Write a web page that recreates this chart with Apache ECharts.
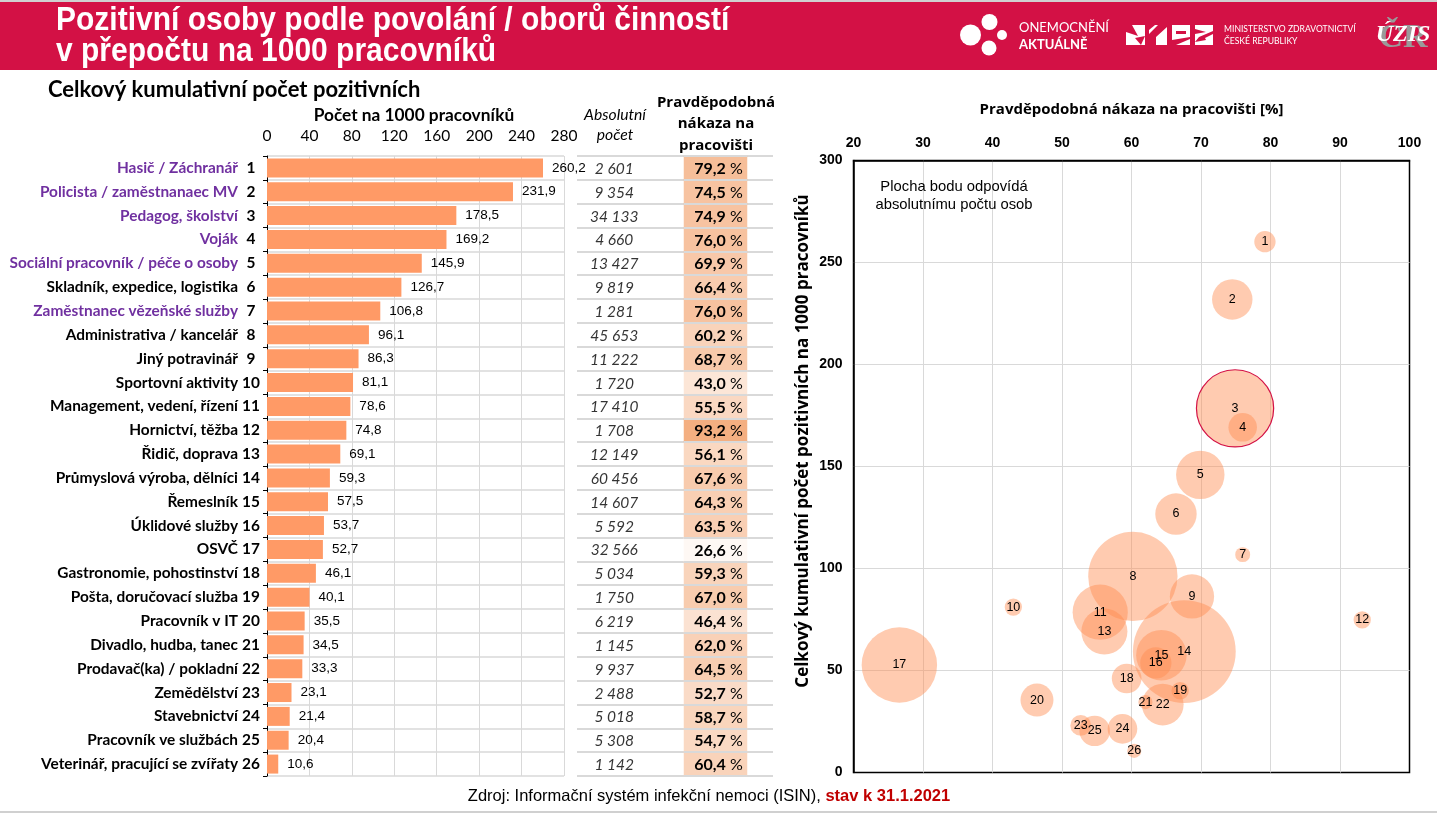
<!DOCTYPE html>
<html><head><meta charset="utf-8">
<style>html,body{margin:0;padding:0;background:#fff}#c{width:1437px;height:813px}</style>
<script src="https://cdn.jsdelivr.net/npm/echarts@6/dist/echarts.min.js"></script></head>
<body><div id="c"></div>
<script>
const occupations = ["Hasič / Záchranář","Policista / zaměstnanaec MV","Pedagog, školství","Voják","Sociální pracovník / péče o osoby","Skladník, expedice, logistika","Zaměstnanec vězeňské služby","Administrativa / kancelář","Jiný potravinář","Sportovní aktivity","Management, vedení, řízení","Hornictví, těžba","Řidič, doprava","Průmyslová výroba, dělníci","Řemeslník","Úklidové služby","OSVČ","Gastronomie, pohostinství","Pošta, doručovací služba","Pracovník v IT","Divadlo, hudba, tanec","Prodavač(ka) / pokladní","Zemědělství","Stavebnictví","Pracovník ve službách","Veterinář, pracující se zvířaty"];
const ranks = [1,2,3,4,5,6,7,8,9,10,11,12,13,14,15,16,17,18,19,20,21,22,23,24,25,26];
const purpleRanks = [1,2,3,4,5,7];
const ratePer1000 = [260.2,231.9,178.5,169.2,145.9,126.7,106.8,96.1,86.3,81.1,78.6,74.8,69.1,59.3,57.5,53.7,52.7,46.1,40.1,35.5,34.5,33.3,23.1,21.4,20.4,10.6];
const absolute = [2601,9354,34133,4660,13427,9819,1281,45653,11222,1720,17410,1708,12149,60456,14607,5592,32566,5034,1750,6219,1145,9937,2488,5018,5308,1142];
const workplacePct = [79.2,74.5,74.9,76.0,69.9,66.4,76.0,60.2,68.7,43.0,55.5,93.2,56.1,67.6,64.3,63.5,26.6,59.3,67.0,46.4,62.0,64.5,52.7,58.7,54.7,60.4];
const barTicks = {min:0,max:280,interval:40};
const scatterX = {min:20,max:100,interval:10};
const scatterY = {min:0,max:300,interval:50};

const SANS = '"Liberation Sans",Arial,sans-serif';
const CAL = 'Lato,"Noto Sans",sans-serif';
const OPEN = '"Open Sans","Noto Sans",sans-serif';
const GRID = '#d9d9d9', BAR = '#FF9A66', RED = '#D31145';
const comma = v => v.toFixed(1).replace('.', ',');
const spaced = v => String(v).replace(/\B(?=(\d{3})+$)/g, ' ');
const keys = ranks.map(String);

const chart = echarts.init(document.getElementById('c'), null, {renderer:'canvas'});
const txt = (x,y,text,o={},e={}) => Object.assign({type:'text',x,y,silent:true,z:20,style:Object.assign({text,fill:'#000',font:'bold 14px '+CAL,align:'center',verticalAlign:'middle'},o)},e);
const circ = (cx,cy,r) => ({type:'circle',silent:true,z:20,shape:{cx,cy,r},style:{fill:'#fff'}});
const box = (x,y,w,h,fill='#fff') => ({type:'rect',silent:true,z:20,shape:{x,y,width:w,height:h},style:{fill}});
const poly = (pts,fill=RED) => ({type:'polygon',silent:true,z:21,shape:{points:pts},style:{fill}});

chart.setOption({
  animation:false,
  backgroundColor:'#fff',
  graphic:{elements:[
    box(0,0,1437,2,'#d0d0d0'),
    box(0,2,1437,68,RED),
    box(0,811,1437,2,'#d0d0d0'),
    txt(56,21,'Pozitivní osoby podle povolání / oborů činností',{fill:'#fff',font:'bold 30px '+SANS,align:'left'},{scaleY:1.08}),
    txt(56,52,'v přepočtu na 1000 pracovníků',{fill:'#fff',font:'bold 30px '+SANS,align:'left'},{scaleY:1.08}),
    circ(970.5,35,10.5),circ(989.5,22,8),circ(989,48,7.5),circ(1002,35,5),
    txt(1019,28,'ONEMOCNĚNÍ',{fill:'#fff',font:'13px '+CAL,align:'left'}),
    txt(1019,45,'AKTUÁLNĚ',{fill:'#fff',font:'bold 13px '+CAL,align:'left'}),
    box(1126,25,19,20),box(1149,25,18,20),box(1172,25,18,20),box(1195,25,18,20),
    poly([[1126,25],[1132,25],[1138,36],[1126,32]]),poly([[1135,38],[1145,36],[1141,45]]),
    poly([[1149,34],[1158,25],[1167,25],[1167,27],[1156,37],[1156,45],[1149,45]]),poly([[1155,25],[1149,25],[1149,30]]),
    poly([[1176,31],[1186,31],[1186,34],[1176,34]]),poly([[1172,40],[1190,37],[1190,39],[1176,45],[1172,45]]),
    poly([[1195,29],[1206,32],[1195,34]]),poly([[1199,37],[1213,31],[1213,34],[1205,38],[1206,40],[1195,42]]),
    txt(1224,29,'MINISTERSTVO ZDRAVOTNICTVÍ',{fill:'#fff',font:'8.6px '+CAL,align:'left'}),
    txt(1224,41,'ČESKÉ REPUBLIKY',{fill:'#fff',font:'8.6px '+CAL,align:'left'}),
    txt(1403,38,'ČR',{fill:'#9a9a9a',font:'bold 34px "Liberation Serif",serif'}),
    txt(1403,35,'ÚZIS',{fill:'#fff',font:'italic bold 24px "Liberation Serif",serif'}),
    txt(48,90,'Celkový kumulativní počet pozitivních',{font:'bold 22px '+CAL,align:'left'}),
    txt(414,115,'Počet na 1000 pracovníků',{font:'bold 17.3px '+CAL}),
    txt(615,115,'Absolutní',{font:'italic 15.7px '+CAL}),
    txt(615,135,'počet',{font:'italic 15.7px '+CAL}),
    txt(716,103,'Pravděpodobná',{font:'bold 15px '+OPEN}),
    txt(716,124,'nákaza na',{font:'bold 15px '+OPEN}),
    txt(716,146,'pracovišti',{font:'bold 15px '+OPEN}),
    txt(954,196,'Plocha bodu odpovídá\nabsolutnímu počtu osob',{font:'14.8px '+SANS,lineHeight:18}),
    txt(803,441,'Celkový kumulativní počet pozitivních na 1000 pracovníků',{font:'bold 17px '+OPEN},{rotation:Math.PI/2}),
    {type:'text',x:709,y:796,silent:true,z:20,style:{text:'{a|Zdroj: Informační systém infekční nemoci (ISIN), }{b|stav k 31.1.2021}',align:'center',verticalAlign:'middle',rich:{a:{font:'16.5px '+SANS,fill:'#000'},b:{font:'bold 16.5px '+SANS,fill:'#C00000'}}}}
  ]},
  grid:[
    {left:267,right:1437-564,top:156,height:620},
    {left:577,right:1437-773,top:156,height:620},
    {left:684,right:1437-747,top:156,height:620},
    {left:853.5,right:1437-1409.5,top:160.5,height:612,show:true,borderColor:'#000',borderWidth:1.5,backgroundColor:'transparent'}
  ],
  xAxis:[
    {gridIndex:0,type:'value',position:'top',...barTicks,axisLine:{show:false},axisTick:{show:false},
      axisLabel:{color:'#000',fontFamily:CAL,fontSize:15.5,margin:12,hideOverlap:false},splitLine:{lineStyle:{color:GRID,width:1}}},
    {gridIndex:1,type:'value',min:0,max:1,show:false},
    {gridIndex:2,type:'category',data:['%'],show:false},
    {gridIndex:3,type:'value',position:'top',...scatterX,
      name:'Pravděpodobná nákaza na pracovišti [%]',nameLocation:'middle',nameGap:43,
      nameTextStyle:{color:'#000',fontFamily:OPEN,fontWeight:'bold',fontSize:15},
      axisLine:{show:true,onZero:false,lineStyle:{color:'#000',width:1.5}},axisTick:{show:false},
      axisLabel:{color:'#000',fontFamily:SANS,fontWeight:'bold',fontSize:14,margin:10},
      splitLine:{showMinLine:false,showMaxLine:false,lineStyle:{color:GRID,width:1}}}
  ],
  yAxis:[
    {gridIndex:0,type:'category',inverse:true,data:keys,
      axisLine:{lineStyle:{color:'#000',width:1}},axisTick:{show:true,length:4,lineStyle:{color:'#000'}},
      splitLine:{show:true,lineStyle:{color:GRID,width:1.5}},
      axisLabel:{margin:6,interval:0,
        formatter:(v,i)=>`{${purpleRanks.includes(+v)?'p':'k'}|${occupations[i]}}{n|${v}}`,
        rich:{p:{color:'#7030A0',fontFamily:CAL,fontWeight:'bold',fontSize:15.4,padding:[0,3,0,0]},
              k:{color:'#000',fontFamily:CAL,fontWeight:'bold',fontSize:15.4,padding:[0,3,0,0]},
              n:{color:'#000',fontFamily:CAL,fontWeight:'bold',fontSize:15.4,width:20,align:'center'}}}},
    {gridIndex:1,type:'category',inverse:true,data:keys,axisLine:{show:false},axisTick:{show:false},axisLabel:{show:false},
      splitLine:{show:true,lineStyle:{color:GRID,width:2}}},
    {gridIndex:2,type:'category',inverse:true,data:keys,axisLine:{show:false},axisTick:{show:false},axisLabel:{show:false},z:10,
      splitLine:{show:true,lineStyle:{color:GRID,width:2}}},
    {gridIndex:3,type:'value',...scatterY,
      axisLine:{show:true,lineStyle:{color:'#000',width:1.5}},axisTick:{show:false},
      axisLabel:{color:'#000',fontFamily:SANS,fontWeight:'bold',fontSize:14,margin:11},
      splitLine:{showMinLine:false,showMaxLine:false,lineStyle:{color:GRID,width:1}}}
  ],
  visualMap:{show:false,seriesIndex:2,dimension:2,min:20,max:95,inRange:{color:['#ffffff','#F4AD7E']}},
  series:[
    {type:'bar',xAxisIndex:0,yAxisIndex:0,barWidth:19,data:ratePer1000,itemStyle:{color:BAR},
      label:{show:true,position:'right',distance:9,color:'#000',fontFamily:SANS,fontSize:13.5,formatter:p=>comma(p.value)}},
    {type:'scatter',xAxisIndex:1,yAxisIndex:1,symbolSize:0,data:absolute.map((a,i)=>[0.19,keys[i],a]),
      label:{show:true,position:'inside',color:'#000',fontFamily:CAL,fontStyle:'italic',fontSize:15.5,offset:[0,1],formatter:p=>spaced(p.value[2])}},
    {type:'heatmap',xAxisIndex:2,yAxisIndex:2,data:workplacePct.map((v,i)=>[0,i,v]),
      label:{show:true,color:'#000',offset:[3,1],formatter:p=>`{b|${comma(p.value[2])}}{s| %}`,
        rich:{b:{fontFamily:CAL,fontWeight:'bold',fontSize:16,color:'#000'},s:{fontFamily:CAL,fontSize:16,color:'#000'}}}},
    {type:'scatter',xAxisIndex:3,yAxisIndex:3,
      data:workplacePct.map((v,i)=>({value:[v,ratePer1000[i],absolute[i],ranks[i]],
        itemStyle:ranks[i]===3?{borderColor:RED,borderWidth:1.2}:undefined})),
      symbolSize:d=>0.418*Math.sqrt(d[2]),
      itemStyle:{color:'rgba(255,140,80,0.45)',opacity:1},
      label:{show:true,position:'inside',color:'#000',opacity:1,fontFamily:SANS,fontSize:12.5,formatter:p=>p.value[3]},
      labelLayout:{hideOverlap:false}}
  ]
});
</script></body></html>
